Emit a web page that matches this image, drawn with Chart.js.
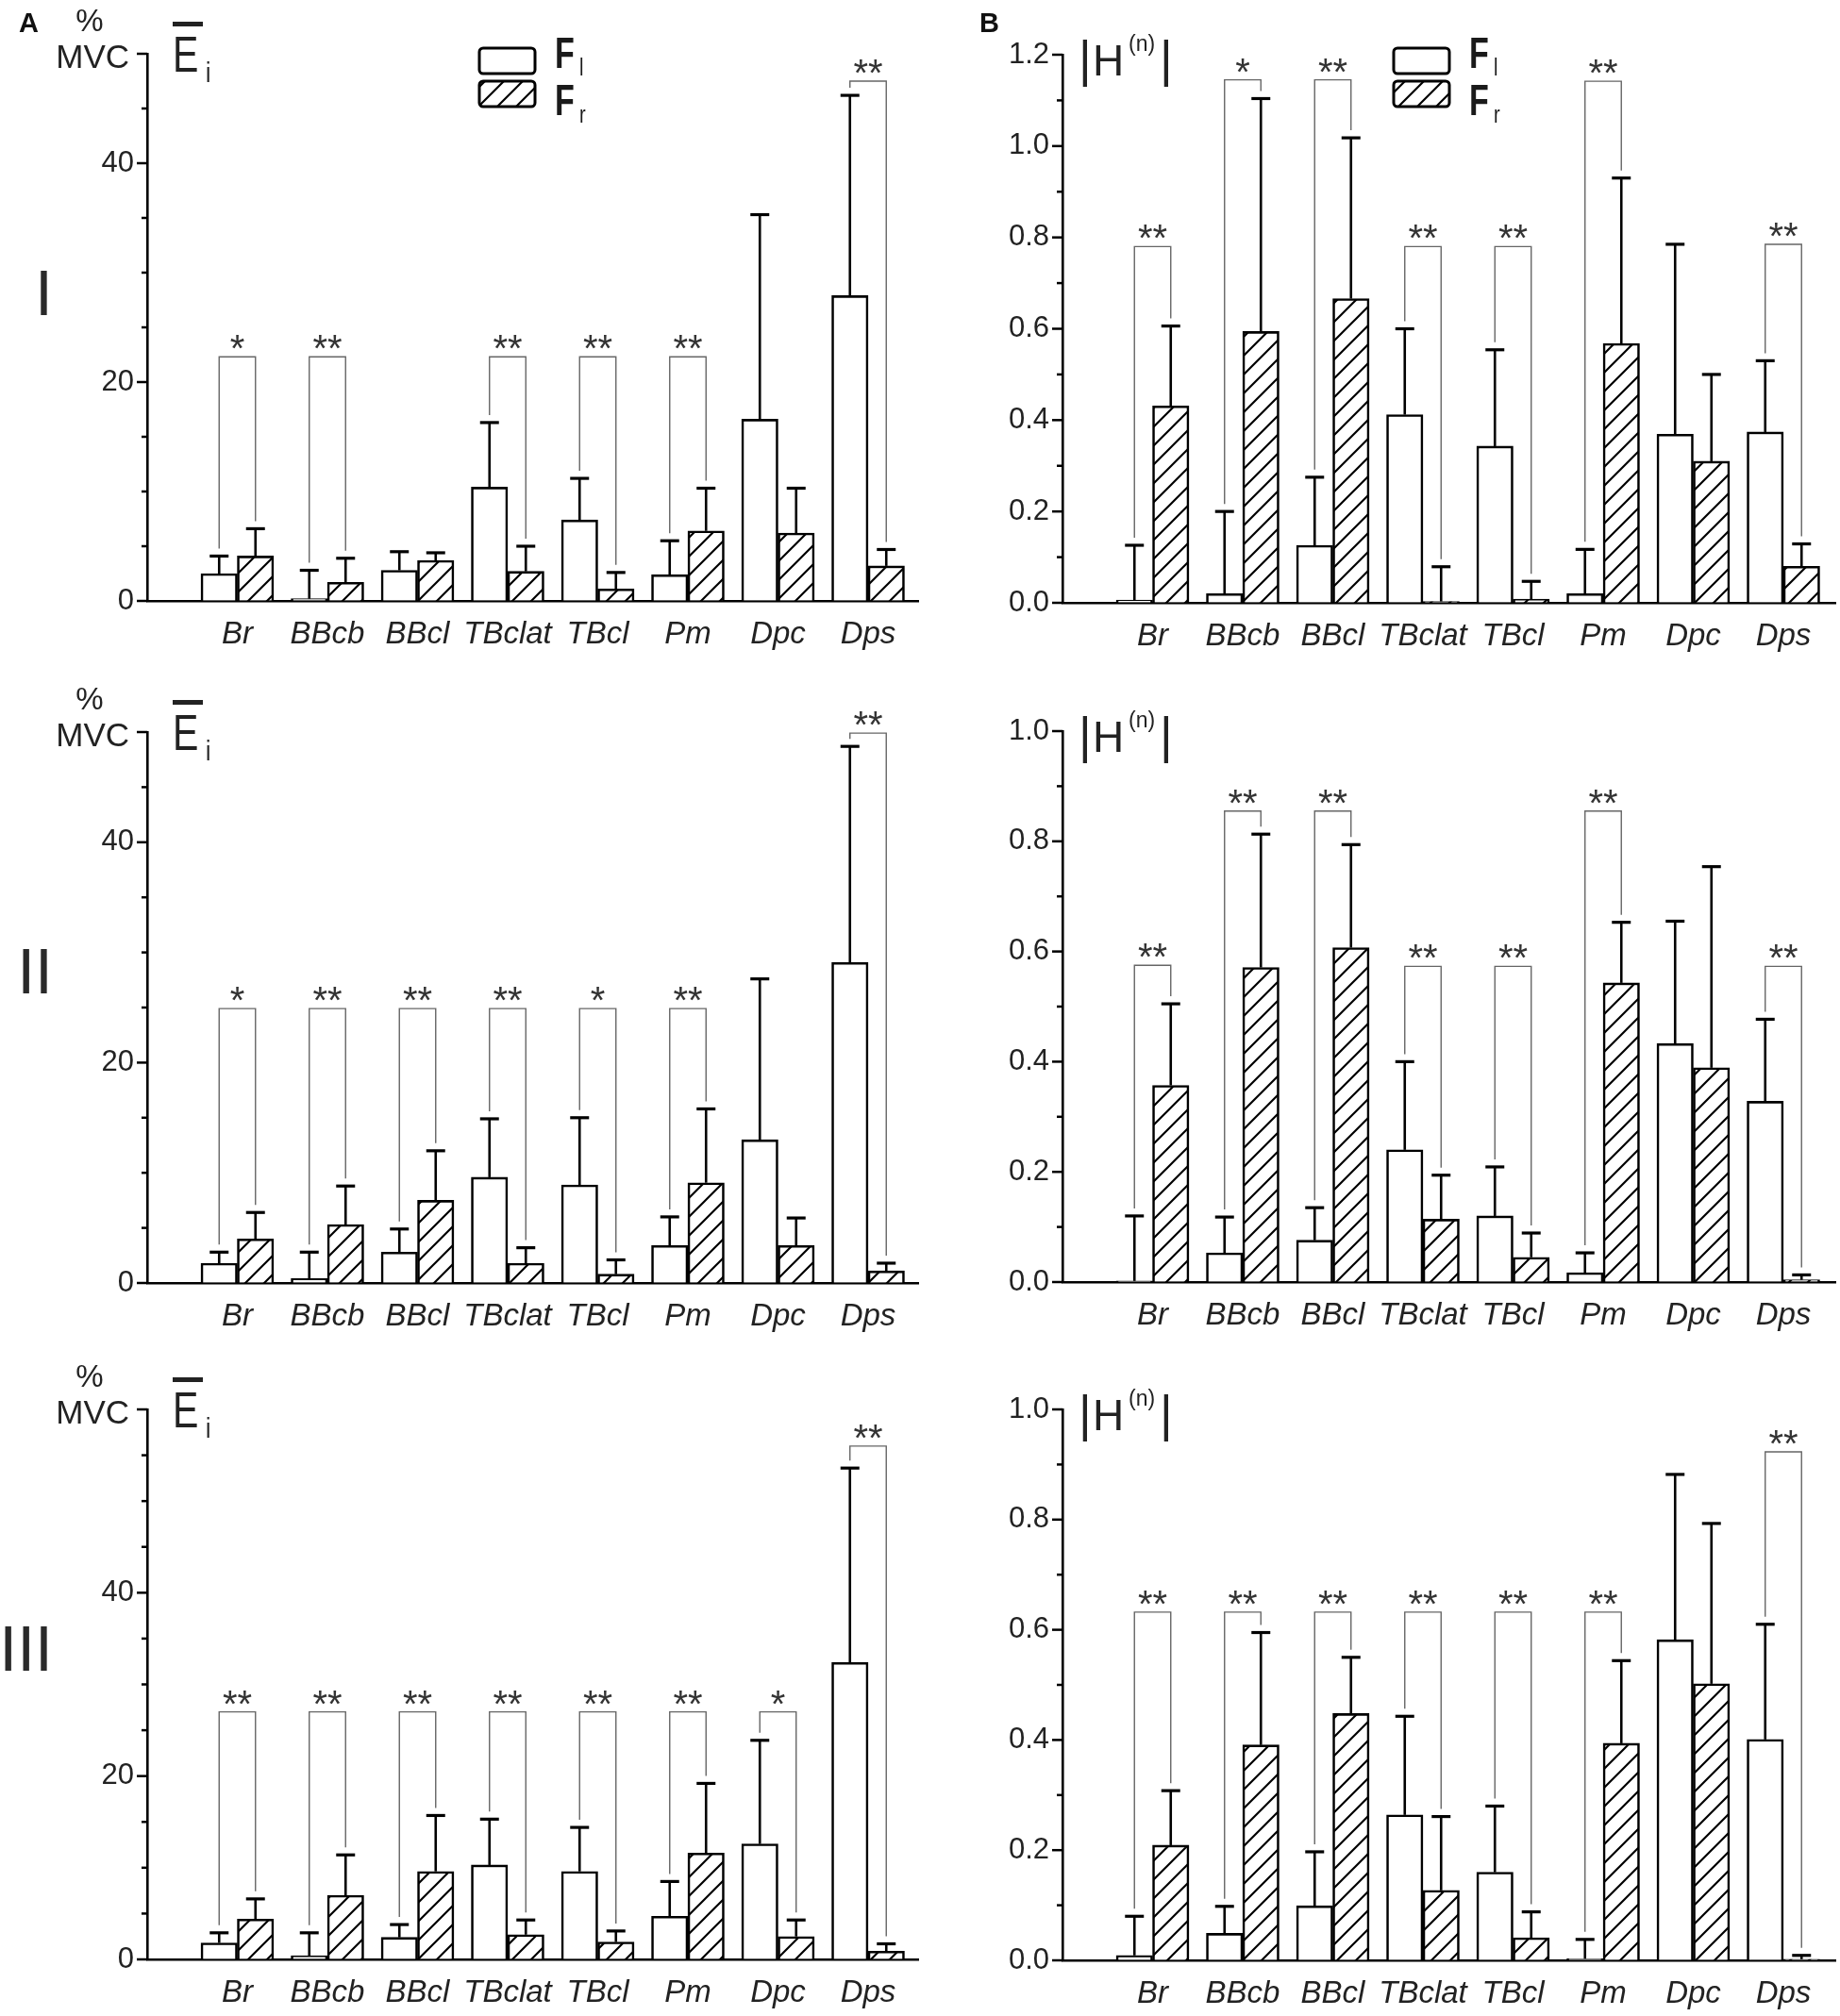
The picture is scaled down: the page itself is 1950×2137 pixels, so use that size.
<!DOCTYPE html>
<html><head><meta charset="utf-8">
<script src="https://cdn.jsdelivr.net/npm/chart.js@4.4.1/dist/chart.umd.min.js"></script>
<style>
html,body{margin:0;padding:0;background:#fff;}
#wrap{position:relative;width:1950px;height:2137px;overflow:hidden;background:#fff;}
canvas{position:absolute;}
</style></head>
<body><div id="wrap">
<canvas id="c_e1" style="left:0px;top:0px" width="975" height="700"></canvas>
<canvas id="c_h1" style="left:975px;top:0px" width="975" height="700"></canvas>
<canvas id="c_e2" style="left:0px;top:700px" width="975" height="720"></canvas>
<canvas id="c_h2" style="left:975px;top:700px" width="975" height="720"></canvas>
<canvas id="c_e3" style="left:0px;top:1420px" width="975" height="717"></canvas>
<canvas id="c_h3" style="left:975px;top:1420px" width="975" height="717"></canvas>
</div>
<script>
// ---------------- DATA ----------------
const categories = ['Br','BBcb','BBcl','TBclat','TBcl','Pm','Dpc','Dps'];
const seriesNames = ['F', 'F'];
const seriesSubs = ['l', 'r'];
const rowNames = ['I', 'II', 'III'];

// Row I, panel A (mean EMG, % MVC)
const e1FlMean = [2.5, 0.2, 2.8, 10.4, 7.4, 2.4, 16.6, 27.9];
const e1FlSD   = [1.6, 2.6, 1.7, 5.9, 3.8, 3.1, 18.7, 18.3];
const e1FrMean = [4.1, 1.7, 3.7, 2.7, 1.1, 6.4, 6.2, 3.2];
const e1FrSD   = [2.5, 2.2, 0.7, 2.3, 1.5, 3.9, 4.1, 1.5];
const e1Sig    = ['*', '**', null, '**', '**', '**', null, '**'];
const e1SigY   = [22.3, 22.3, null, 22.3, 22.3, 22.3, null, 47.5];

// Row I, panel B (|H(n)|)
const h1FlMean = [0.006, 0.02, 0.126, 0.412, 0.343, 0.02, 0.369, 0.374];
const h1FlSD   = [0.12, 0.18, 0.149, 0.188, 0.211, 0.097, 0.416, 0.156];
const h1FrMean = [0.431, 0.594, 0.666, 0.003, 0.008, 0.568, 0.31, 0.08];
const h1FrSD   = [0.175, 0.51, 0.352, 0.076, 0.039, 0.362, 0.19, 0.049];
const h1Sig    = ['**', '*', '**', '**', '**', '**', null, '**'];
const h1SigY   = [0.78, 1.145, 1.145, 0.78, 0.78, 1.142, null, 0.785];

// Row II, panel A
const e2FlMean = [1.8, 0.4, 2.8, 9.6, 8.9, 3.4, 13.0, 29.1];
const e2FlSD   = [1.0, 2.4, 2.1, 5.3, 6.1, 2.6, 14.6, 19.6];
const e2FrMean = [4.0, 5.3, 7.5, 1.8, 0.8, 9.1, 3.4, 1.1];
const e2FrSD   = [2.4, 3.5, 4.5, 1.4, 1.3, 6.7, 2.5, 0.7];
const e2Sig    = ['*', '**', '**', '**', '*', '**', null, '**'];
const e2SigY   = [24.9, 24.9, 24.9, 24.9, 24.9, 24.9, null, 49.9];

// Row II, panel B
const h2FlMean = [0.002, 0.053, 0.076, 0.24, 0.12, 0.017, 0.433, 0.328];
const h2FlSD   = [0.118, 0.065, 0.059, 0.16, 0.089, 0.036, 0.222, 0.149];
const h2FrMean = [0.357, 0.571, 0.607, 0.114, 0.045, 0.543, 0.389, 0.004];
const h2FrSD   = [0.148, 0.242, 0.187, 0.08, 0.044, 0.11, 0.365, 0.009];
const h2Sig    = ['**', '**', '**', '**', '**', '**', null, '**'];
const h2SigY   = [0.575, 0.855, 0.855, 0.573, 0.573, 0.855, null, 0.573];

// Row III, panel A
const e3FlMean = [1.8, 0.4, 2.4, 10.3, 9.6, 4.7, 12.6, 32.4];
const e3FlSD   = [1.1, 2.5, 1.4, 5.0, 4.8, 3.8, 11.3, 21.2];
const e3FrMean = [4.4, 7.0, 9.6, 2.7, 1.9, 11.6, 2.5, 0.9];
const e3FrSD   = [2.2, 4.4, 6.1, 1.6, 1.2, 7.6, 1.8, 0.8];
const e3Sig    = ['**', '**', '**', '**', '**', '**', '*', '**'];
const e3SigY   = [27, 27, 27, 27, 27, 27, 27, 56];

// Row III, panel B
const h3FlMean = [0.009, 0.049, 0.099, 0.264, 0.16, 0.003, 0.582, 0.401];
const h3FlSD   = [0.071, 0.049, 0.098, 0.179, 0.12, 0.035, 0.3, 0.209];
const h3FrMean = [0.209, 0.391, 0.448, 0.127, 0.041, 0.394, 0.502, 0.002];
const h3FrSD   = [0.099, 0.204, 0.102, 0.134, 0.047, 0.15, 0.291, 0.007];
const h3Sig    = ['**', '**', '**', '**', '**', '**', null, '**'];
const h3SigY   = [0.632, 0.632, 0.632, 0.632, 0.632, 0.632, null, 0.923];

// Axis ranges and tick labels
const eAxisMax   = [50, 50, 60];
const eTickStep  = 5;
const eTickLabels = [0, 20, 40];
const hAxisMax   = [1.2, 1.0, 1.0];
const hTickStep  = 0.1;
const hTickLabels = [0, 0.2, 0.4, 0.6, 0.8, 1.0, 1.2];

// ---------------- STYLE / LAYOUT ----------------
const FONT = '"Liberation Sans", Arial, Helvetica, sans-serif';
const TXT = '#222';

function makeHatch() {
  const s = 20;
  const c = document.createElement('canvas');
  c.width = s; c.height = s;
  const g = c.getContext('2d');
  g.fillStyle = '#fff'; g.fillRect(0, 0, s, s);
  g.strokeStyle = '#000'; g.lineWidth = 2.2; g.lineCap = 'square';
  g.beginPath();
  g.moveTo(-2, s + 2); g.lineTo(s + 2, -2);
  g.moveTo(-s / 2 - 2, s / 2 + 2); g.lineTo(s / 2 + 2, -s / 2 - 2);
  g.moveTo(s / 2 - 2, s * 1.5 + 2); g.lineTo(s * 1.5 + 2, s / 2 - 2);
  g.stroke();
  return g.createPattern(c, 'repeat');
}
const hatch = makeHatch();

const panels = [
  {id:'c_e1', kind:'E', row:0, w:975, h:700, T:57, B:637, L:156, R:973, max:eAxisMax[0], step:eTickStep, labels:eTickLabels,
   flMean:e1FlMean, flSD:e1FlSD, frMean:e1FrMean, frSD:e1FrSD, sig:e1Sig, sigY:e1SigY, letter:'A', legendX:508},
  {id:'c_h1', kind:'H', row:0, w:975, h:700, T:58, B:639, L:151, R:970, max:hAxisMax[0], step:hTickStep, labels:hTickLabels,
   flMean:h1FlMean, flSD:h1FlSD, frMean:h1FrMean, frSD:h1FrSD, sig:h1Sig, sigY:h1SigY, letter:'B', legendX:502},
  {id:'c_e2', kind:'E', row:1, w:975, h:720, T:76, B:660, L:156, R:973, max:eAxisMax[1], step:eTickStep, labels:eTickLabels,
   flMean:e2FlMean, flSD:e2FlSD, frMean:e2FrMean, frSD:e2FrSD, sig:e2Sig, sigY:e2SigY},
  {id:'c_h2', kind:'H', row:1, w:975, h:720, T:75, B:659, L:151, R:970, max:hAxisMax[1], step:hTickStep, labels:hTickLabels,
   flMean:h2FlMean, flSD:h2FlSD, frMean:h2FrMean, frSD:h2FrSD, sig:h2Sig, sigY:h2SigY},
  {id:'c_e3', kind:'E', row:2, w:975, h:717, T:74, B:657, L:156, R:973, max:eAxisMax[2], step:eTickStep, labels:eTickLabels,
   flMean:e3FlMean, flSD:e3FlSD, frMean:e3FrMean, frSD:e3FrSD, sig:e3Sig, sigY:e3SigY},
  {id:'c_h3', kind:'H', row:2, w:975, h:717, T:74, B:658, L:151, R:970, max:hAxisMax[2], step:hTickStep, labels:hTickLabels,
   flMean:h3FlMean, flSD:h3FlSD, frMean:h3FrMean, frSD:h3FrSD, sig:h3Sig, sigY:h3SigY}
];

function scaledText(c, txt, x, y, font, sx) {
  c.save();
  c.translate(x, y);
  c.scale(sx, 1);
  c.font = font; c.textAlign = 'left'; c.textBaseline = 'alphabetic';
  c.fillText(txt, 0, 0);
  c.restore();
}

function drawETitle(c, T) {
  c.fillStyle = TXT;
  c.textBaseline = 'middle';
  c.font = '33px ' + FONT; c.textAlign = 'center';
  c.fillText('%', 95, T - 33);
  c.font = '35px ' + FONT; c.textAlign = 'right';
  c.fillText('MVC', 137, T + 5);
  scaledText(c, 'E', 183, T + 19, '54px ' + FONT, 0.76);
  c.fillRect(183, T - 34, 32, 5);
  scaledText(c, 'i', 218, T + 30, '30px ' + FONT, 0.8);
}

function drawHTitle(c, T) {
  c.fillStyle = TXT;
  c.textBaseline = 'alphabetic'; c.textAlign = 'left';
  c.font = '53px ' + FONT;
  c.fillText('|', 168, T + 23);
  c.font = '46px ' + FONT;
  c.fillText('H', 183, T + 22);
  c.font = '23px ' + FONT;
  c.fillText('(n)', 221, T - 4);
  c.font = '53px ' + FONT;
  c.fillText('|', 254, T + 23);
}

function drawLegend(c, x) {
  const bw = 59, bh = 27;
  const ys = [51, 86];
  const fills = ['#fff', hatch];
  const base = [72, 122];
  const subBase = [80, 130];
  for (let k = 0; k < 2; k++) {
    c.beginPath();
    c.roundRect(x, ys[k], bw, bh, 4);
    c.fillStyle = fills[k]; c.fill();
    c.lineWidth = 3; c.strokeStyle = '#000'; c.stroke();
    c.fillStyle = '#1a1a1a';
    scaledText(c, seriesNames[k], x + bw + 21, base[k], 'bold 46px ' + FONT, 0.74);
    scaledText(c, seriesSubs[k], x + bw + 47, subBase[k], '25px ' + FONT, 0.8);
  }
}

function decoPlugin(p) {
  return {
    id: 'deco_' + p.id,
    afterDatasetsDraw(chart) {
      const c = chart.ctx, ys = chart.scales.y, ca = chart.chartArea;
      c.save();
      // y-axis tick marks (major / minor)
      c.strokeStyle = '#000'; c.lineCap = 'butt';
      ys.ticks.forEach(t => {
        const y = ys.getPixelForValue(t.value);
        const major = p.labels.some(l => Math.abs(l - t.value) < 1e-6) || Math.abs(t.value - p.max) < 1e-6;
        const len = major ? 11 : 6;
        c.lineWidth = 2.5;
        c.beginPath(); c.moveTo(ca.left - len, y); c.lineTo(ca.left, y); c.stroke();
      });
      // error bars (upper only)
      const series = [[p.flMean, p.flSD], [p.frMean, p.frSD]];
      const tops = [[], []];
      series.forEach((s, di) => {
        const meta = chart.getDatasetMeta(di);
        meta.data.forEach((el, j) => {
          const yTop = ys.getPixelForValue(s[0][j] + s[1][j]);
          tops[di][j] = yTop;
          c.strokeStyle = '#000';
          c.lineWidth = 2.6;
          c.beginPath(); c.moveTo(el.x, el.y); c.lineTo(el.x, yTop); c.stroke();
          c.lineWidth = 3.2;
          c.beginPath(); c.moveTo(el.x - 10, yTop); c.lineTo(el.x + 10, yTop); c.stroke();
        });
      });
      // significance brackets
      const m0 = chart.getDatasetMeta(0), m1 = chart.getDatasetMeta(1);
      p.sig.forEach((s, j) => {
        if (!s) return;
        const x0 = m0.data[j].x, x1 = m1.data[j].x;
        const yb = ys.getPixelForValue(p.sigY[j]);
        c.strokeStyle = '#666'; c.lineWidth = 1.4;
        c.beginPath();
        c.moveTo(x0, tops[0][j] - 8); c.lineTo(x0, yb); c.lineTo(x1, yb); c.lineTo(x1, tops[1][j] - 8);
        c.stroke();
        c.fillStyle = '#333'; c.font = '40px ' + FONT; c.textAlign = 'center'; c.textBaseline = 'alphabetic';
        c.fillText(s, (x0 + x1) / 2, yb + 5);
      });
      c.restore();
    },
    afterDraw(chart) {
      const c = chart.ctx;
      c.save();
      if (p.kind === 'E') {
        drawETitle(c, p.T);
        c.fillStyle = '#2a2a2a'; c.font = '68px ' + FONT; c.textAlign = 'right'; c.textBaseline = 'middle';
        c.fillText(rowNames[p.row], 56, p.T + 258);
      } else {
        drawHTitle(c, p.T);
      }
      if (p.letter) {
        c.fillStyle = '#111'; c.font = 'bold 29px ' + FONT; c.textAlign = 'left'; c.textBaseline = 'alphabetic';
        c.fillText(p.letter, p.kind === 'E' ? 20 : 63, 34);
      }
      if (p.legendX) drawLegend(c, p.legendX);
      c.restore();
    }
  };
}

function makeChart(p) {
  const spacing = 95.5;
  const xMax = (p.R - p.L) / spacing;
  const cfg = {
    type: 'bar',
    data: {
      datasets: [
        {label: 'Fl', data: p.flMean.map((v, i) => ({x: i + 1, y: v})),
         backgroundColor: '#fff', borderColor: '#000', borderWidth: 2.6, borderSkipped: 'start', barThickness: 38.5},
        {label: 'Fr', data: p.frMean.map((v, i) => ({x: i + 1, y: v})),
         backgroundColor: hatch, borderColor: '#000', borderWidth: 2.6, borderSkipped: 'start', barThickness: 38.5}
      ]
    },
    options: {
      responsive: false, animation: false, devicePixelRatio: 1,
      layout: {padding: {left: 0, top: p.T, right: p.w - p.R, bottom: 0}},
      plugins: {legend: {display: false}, tooltip: {enabled: false}},
      scales: {
        x: {
          type: 'linear', min: 0, max: xMax, offset: false,
          grid: {drawOnChartArea: false, drawTicks: false},
          border: {display: true, color: '#000', width: 2.6},
          ticks: {
            autoSkip: false, maxRotation: 0, minRotation: 0, padding: 16, color: TXT,
            font: {family: FONT, size: 33, style: 'italic'},
            callback: (v) => (Number.isInteger(v) && v >= 1 && v <= categories.length) ? categories[v - 1] : ''
          },
          afterBuildTicks: (s) => { s.ticks = categories.map((c, i) => ({value: i + 1})); },
          afterFit: (s) => { s.height = p.h - p.B; }
        },
        y: {
          type: 'linear', min: 0, max: p.max,
          grid: {drawOnChartArea: false, drawTicks: false},
          border: {display: true, color: '#000', width: 2.6},
          ticks: {
            stepSize: p.step, autoSkip: false, padding: 14, color: TXT,
            font: {family: FONT, size: 31},
            callback: (v) => {
              const hit = p.labels.some(l => Math.abs(l - v) < 1e-6);
              if (!hit) return '';
              if (p.kind === 'E') return (Math.abs(v - p.max) < 1e-6) ? '' : String(Math.round(v));
              return v.toFixed(1);
            }
          },
          afterFit: (s) => { s.width = p.L; }
        }
      }
    },
    plugins: [decoPlugin(p)]
  };
  return new Chart(document.getElementById(p.id), cfg);
}

panels.forEach(makeChart);
</script>
</body></html>
